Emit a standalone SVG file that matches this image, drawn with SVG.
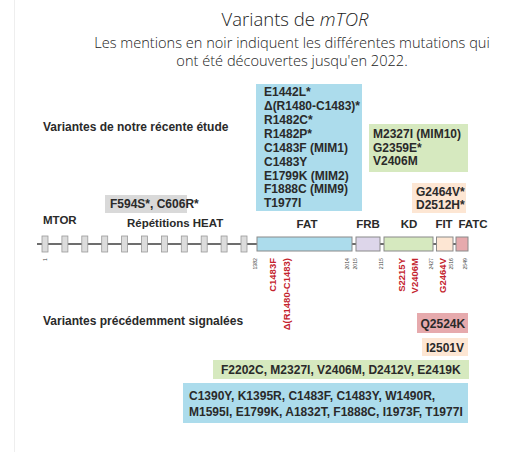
<svg xmlns="http://www.w3.org/2000/svg" width="506" height="455" viewBox="0 0 506 455">
<style>
.t{font-family:"Liberation Sans",Arial,sans-serif;font-weight:bold;font-size:12px;fill:#2a2a2a}
.s{font-family:"Liberation Sans",Arial,sans-serif;font-weight:bold;font-size:11.5px;fill:#2a2a2a}
.h{font-family:"Open Sans",Lato,sans-serif;font-weight:300;fill:#222}
.r{font-family:"Liberation Sans",Arial,sans-serif;font-weight:bold;font-size:9.5px;fill:#c4232e}
.n{font-family:"Liberation Sans",Arial,sans-serif;font-size:5.2px;fill:#444}
.dom{stroke:#8a8a8a;stroke-width:1}
.rep{fill:#dcdcdc;stroke:#9a9a9a;stroke-width:0.8}
</style>
<rect width="506" height="455" fill="#ffffff"/>
<line x1="14.5" y1="0" x2="14.5" y2="452" stroke="#eeeeee" stroke-width="1"/>

<g id="title">
<text class="h" x="295" y="25.5" font-size="18.5" text-anchor="middle">Variants de <tspan font-style="italic">mTOR</tspan></text>
<text class="h" x="292" y="47.5" font-size="14.6" text-anchor="middle">Les mentions en noir indiquent les différentes mutations qui</text>
<text class="h" x="292" y="66" font-size="14.6" text-anchor="middle">ont été découvertes jusqu'en 2022.</text>
</g>

<g id="label-recent"><text class="t" x="43" y="131">Variantes de notre récente étude</text></g>
<g id="label-previous"><text class="t" x="43" y="325">Variantes précédemment signalées</text></g>

<g id="recent-fat">
<rect x="256" y="84" width="106" height="127" fill="#acdcec"/>
<text class="t" x="264" y="96">E1442L*</text>
<text class="t" x="264" y="110">Δ(R1480-C1483)*</text>
<text class="t" x="264" y="124">R1482C*</text>
<text class="t" x="264" y="138">R1482P*</text>
<text class="t" x="264" y="151.5">C1483F (MIM1)</text>
<text class="t" x="264" y="165.5">C1483Y</text>
<text class="t" x="264" y="179.5">E1799K (MIM2)</text>
<text class="t" x="264" y="193">F1888C (MIM9)</text>
<text class="t" x="264" y="207">T1977I</text>
</g>

<g id="recent-kd">
<rect x="369" y="124" width="99" height="48" fill="#d6e9bf"/>
<text class="t" x="373" y="138">M2327I (MIM10)</text>
<text class="t" x="373" y="151.5">G2359E*</text>
<text class="t" x="373" y="165">V2406M</text>
</g>

<g id="recent-fit">
<rect x="412" y="183" width="54" height="30" fill="#fde6d3"/>
<text class="t" x="416" y="195.5">G2464V*</text>
<text class="t" x="416" y="209">D2512H*</text>
</g>

<g id="recent-heat">
<rect x="105" y="195" width="82" height="18" fill="#d9d9d9"/>
<text class="t" x="110" y="208" font-size="10.5">F594S*, C606R*</text>
</g>

<g id="protein">
<text class="s" x="43" y="224">MTOR</text>
<text class="s" x="127" y="227">Répétitions HEAT</text>
<text class="s" x="307" y="228" text-anchor="middle">FAT</text>
<text class="s" x="368" y="228" text-anchor="middle">FRB</text>
<text class="s" x="409" y="228" text-anchor="middle">KD</text>
<text class="s" x="444" y="228" text-anchor="middle">FIT</text>
<text class="s" x="473" y="228" text-anchor="middle">FATC</text>
</g>

<g id="connectors">
<line x1="37" y1="244" x2="457" y2="244" stroke="#3c3c3c" stroke-width="1.6"/>
</g>

<g id="heat-repeats">
<rect class="rep" x="42" y="236" width="6" height="16"/>
<rect class="rep" x="61.9" y="236" width="6" height="16"/>
<rect class="rep" x="81.8" y="236" width="6" height="16"/>
<rect class="rep" x="101.7" y="236" width="6" height="16"/>
<rect class="rep" x="121.6" y="236" width="6" height="16"/>
<rect class="rep" x="141.5" y="236" width="6" height="16"/>
<rect class="rep" x="161.4" y="236" width="6" height="16"/>
<rect class="rep" x="181.3" y="236" width="6" height="16"/>
<rect class="rep" x="201.2" y="236" width="6" height="16"/>
<rect class="rep" x="221.1" y="236" width="6" height="16"/>
<rect class="rep" x="241" y="236" width="6" height="16"/>
</g>

<g id="domains">
<rect id="FAT" class="dom" x="257" y="237" width="95" height="14" fill="#acdcec"/>
<rect id="FRB" class="dom" x="356" y="237" width="24" height="14" fill="#ddd6ea"/>
<rect id="KD" class="dom" x="384" y="237" width="49" height="14" fill="#d6e9bf"/>
<rect id="FIT" class="dom" x="436.5" y="237" width="16.5" height="14" fill="#fde6d3"/>
<rect id="FATC" class="dom" x="456" y="237" width="12" height="14" fill="#e6aaad"/>
</g>

<g id="positions">
<text class="n" text-anchor="end" transform="translate(46.9,258) rotate(-90)">1</text>
<text class="n" text-anchor="end" transform="translate(256.9,258) rotate(-90)">1382</text>
<text class="n" text-anchor="end" transform="translate(348.9,258) rotate(-90)">2014</text>
<text class="n" text-anchor="end" transform="translate(357.4,258) rotate(-90)">2015</text>
<text class="n" text-anchor="end" transform="translate(383.4,258) rotate(-90)">2115</text>
<text class="n" text-anchor="end" transform="translate(433.4,258) rotate(-90)">2427</text>
<text class="n" text-anchor="end" transform="translate(453.4,258) rotate(-90)">2516</text>
<text class="n" text-anchor="end" transform="translate(467.4,258) rotate(-90)">2549</text>
</g>

<g id="previous-linear">
<text class="r" text-anchor="end" transform="translate(275.5,258) rotate(-90)">C1483F</text>
<text class="r" text-anchor="end" transform="translate(289.5,258) rotate(-90)">Δ(R1480-C1483)</text>
<text class="r" text-anchor="end" transform="translate(404.5,258) rotate(-90)">S2215Y</text>
<text class="r" text-anchor="end" transform="translate(417.5,258) rotate(-90)">V2406M</text>
<text class="r" text-anchor="end" transform="translate(445.5,258) rotate(-90)">G2464V</text>
</g>

<g id="prev-fatc">
<rect x="417" y="313" width="51" height="20" fill="#e6aaad"/>
<text class="t" x="420.5" y="327.5">Q2524K</text>
</g>
<g id="prev-fit">
<rect x="422" y="338" width="46" height="18" fill="#fde6d3"/>
<text class="t" x="426" y="351.5">I2501V</text>
</g>
<g id="prev-kd">
<rect x="213" y="360" width="256" height="19" fill="#d6e9bf"/>
<text class="t" x="221" y="374">F2202C, M2327I, V2406M, D2412V, E2419K</text>
</g>
<g id="prev-fat">
<rect x="183" y="383" width="285" height="40" fill="#acdcec"/>
<text class="t" x="189" y="400">C1390Y, K1395R, C1483F, C1483Y, W1490R,</text>
<text class="t" x="189" y="415.5">M1595I, E1799K, A1832T, F1888C, I1973F, T1977I</text>
</g>
</svg>
